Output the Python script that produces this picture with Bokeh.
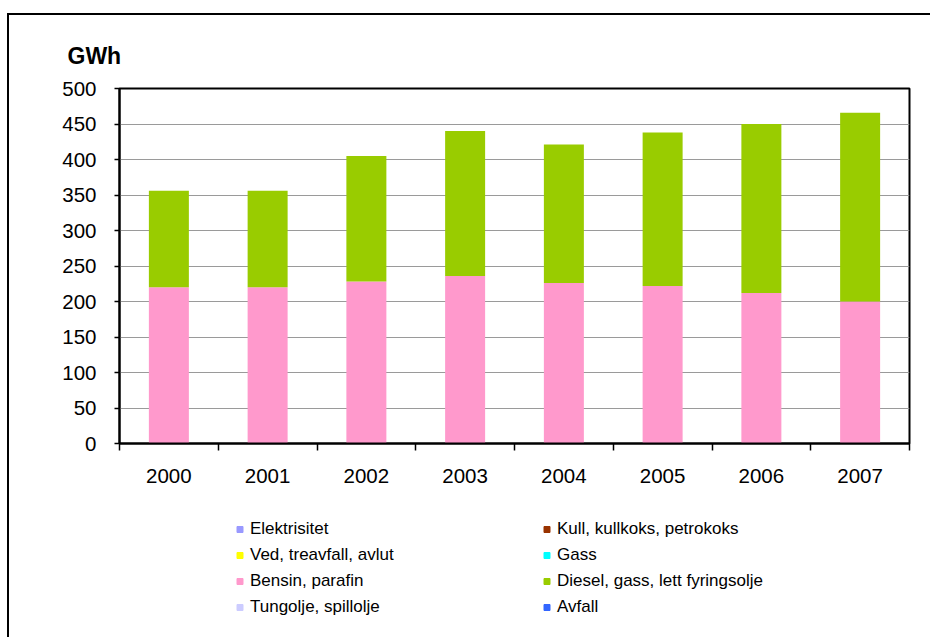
from bokeh.plotting import figure
from bokeh.layouts import column
from bokeh.models import (FactorRange, Range1d, LinearAxis, CategoricalAxis, FixedTicker,
                          SingleIntervalTicker, Legend, LegendItem, ColumnDataSource)
from bokeh.embed import file_html
from bokeh.resources import INLINE

# ---- data ----
years = ["2000", "2001", "2002", "2003", "2004", "2005", "2006", "2007"]
series_names = ["Elektrisitet", "Kull, kullkoks, petrokoks", "Ved, treavfall, avlut", "Gass",
                "Bensin, parafin", "Diesel, gass, lett fyringsolje", "Tungolje, spillolje", "Avfall"]
series_colors = ["#9999FF", "#993300", "#FFFF00", "#00FFFF",
                 "#FF99CC", "#99CC00", "#CCCCFF", "#3366FF"]
elektrisitet = [0, 0, 0, 0, 0, 0, 0, 0]
kull = [0, 0, 0, 0, 0, 0, 0, 0]
ved = [0, 0, 0, 0, 0, 0, 0, 0]
gass = [0, 0, 0, 0, 0, 0, 0, 0]
bensin = [220, 220, 228, 236, 226, 222, 212, 200]
diesel = [136, 136, 177, 204, 195, 216, 238, 266]
tungolje = [0, 0, 0, 0, 0, 0, 0, 0]
avfall = [0, 0, 0, 0, 0, 0, 0, 0]
y_unit = "GWh"

series_values = [elektrisitet, kull, ved, gass, bensin, diesel, tungolje, avfall]
keys = ["s%d" % i for i in range(len(series_names))]
data = {"year": years}
for k, v in zip(keys, series_values):
    data[k] = v
source = ColumnDataSource(data)

FONT = "Liberation Sans"

# ---- main chart ----
p = figure(width=921, height=485, x_range=FactorRange(*years), y_range=Range1d(0, 500),
           x_axis_location=None, y_axis_location="left",
           output_backend="svg", toolbar_location=None,
           min_border_left=110, min_border_right=21, min_border_top=73, min_border_bottom=57,
           background_fill_color="white", border_fill_color="white")
p.outline_line_color = "black"
p.outline_line_width = 2
p.x_range.range_padding = 0

p.title.text = y_unit
p.title.align = "left"
p.title.offset = -52
p.title.standoff = 39
p.title.text_font = FONT
p.title.text_font_size = "23px"
p.title.text_font_style = "bold"
p.title.text_color = "black"

bars = p.vbar_stack(keys, x="year", width=0.405, color=series_colors, source=source,
                    line_color=None)

# y axis
yax = p.yaxis[0]
yax.ticker = SingleIntervalTicker(interval=50, num_minor_ticks=0)
yax.major_label_text_font = FONT
yax.major_label_text_font_size = "20.5px"
yax.major_label_text_color = "black"
yax.major_tick_out = 5
yax.major_tick_in = 0
yax.minor_tick_out = 0
yax.minor_tick_in = 0
yax.axis_line_width = 2
yax.major_tick_line_width = 1.5
yax.major_label_standoff = 18
p.ygrid.ticker = yax.ticker
p.ygrid.grid_line_color = "#9a9a9a"
p.ygrid.grid_line_width = 1
p.xgrid.visible = False

# x axis: ticks at category boundaries (synthetic positions of the factor range), labels at centres
edge_axis = LinearAxis(ticker=FixedTicker(ticks=[], minor_ticks=list(range(len(years) + 1))),
                       major_tick_out=7, major_tick_in=0, minor_tick_out=7, minor_tick_in=0,
                       major_label_standoff=0, axis_line_width=2,
                       minor_tick_line_width=1.5, minor_tick_line_color="black")
p.add_layout(edge_axis, "below")
cat_axis = CategoricalAxis(axis_line_color=None, major_tick_line_color=None,
                           major_tick_out=0, major_tick_in=0,
                           major_label_text_font=FONT, major_label_text_font_size="20.5px",
                           major_label_text_color="black", major_label_standoff=18)
p.add_layout(cat_axis, "below")

# ---- legend panel (own figure; legend keys are the series drawn outside its visible range) ----
pl = figure(width=921, height=137, x_range=FactorRange(*years), y_range=Range1d(1000, 2000),
            x_axis_location=None, y_axis_location=None,
            output_backend="svg", toolbar_location=None,
            min_border=0, min_border_left=0, min_border_right=0, min_border_top=0,
            min_border_bottom=0, background_fill_color="white", border_fill_color="white")
pl.outline_line_color = None
pl.xgrid.visible = False
pl.ygrid.visible = False
markers = [pl.scatter(x="year", y=k, source=source, marker="square", color=c)
           for k, c in zip(keys, series_colors)]
items = [LegendItem(label=n, renderers=[m]) for n, m in zip(series_names, markers)]
lg = Legend(items=items, location=(113, 20), orientation="horizontal", ncols=2,
            glyph_width=15, glyph_height=20, label_height=20, label_width=283, spacing=6,
            padding=0, margin=0, label_standoff=3,
            border_line_color=None, background_fill_alpha=0,
            label_text_font=FONT, label_text_font_size="17px", label_text_color="black")
pl.add_layout(lg)

layout = column(p, pl, spacing=0)
layout.margin = (13, 0, 0, 7)
layout.styles = {"border-top": "2px solid black", "border-left": "2px solid black"}

open("out.html", "w").write(file_html(layout, INLINE))
